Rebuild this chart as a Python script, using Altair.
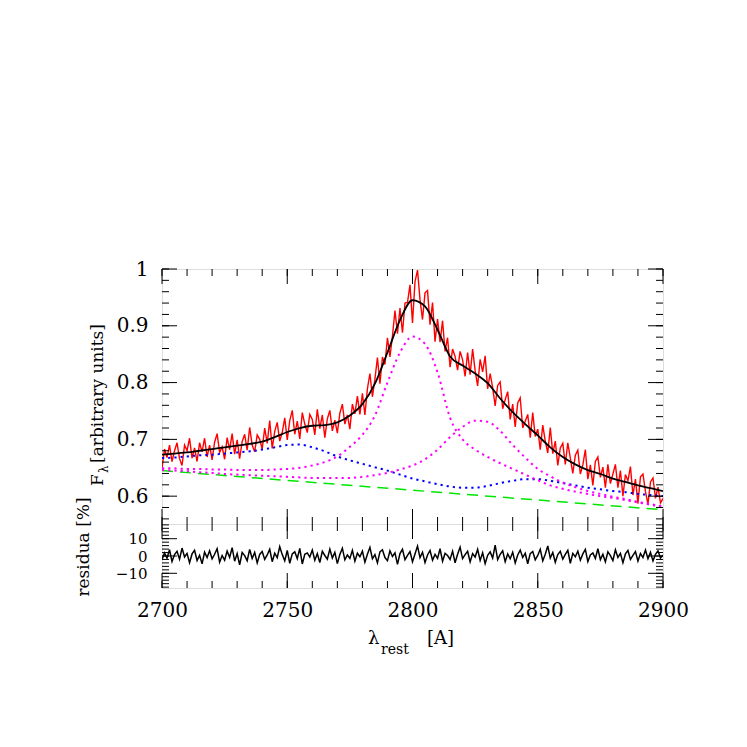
import altair as alt
import pandas as pd

# ---------------- data ----------------
WAVE_FINE = list(range(2700, 2901))          # 1 A sampling of the observed spectrum
FLUX = [
    .649, .683, .668, .690, .661, .680, .694, .666, .654, .690,
    .680, .702, .667, .685, .661, .694, .678, .702, .669, .690,
    .664, .695, .710, .677, .687, .665, .703, .682, .710, .674,
    .699, .666, .696, .709, .681, .721, .690, .678, .708, .700,
    .683, .720, .693, .733, .684, .714, .730, .697, .712, .738,
    .699, .733, .751, .709, .732, .701, .747, .727, .712, .744,
    .735, .708, .753, .719, .743, .703, .736, .751, .715, .734,
    .711, .746, .762, .727, .743, .718, .762, .745, .776, .744,
    .781, .743, .789, .816, .775, .806, .844, .798, .845, .832,
    .879, .845, .882, .927, .886, .931, .888, .940, .941, .972,
    .905, .978, .998, .946, .911, .958, .962, .902, .941, .872,
    .912, .871, .909, .855, .879, .827, .859, .846, .822, .855,
    .840, .811, .853, .814, .859, .821, .794, .841, .819, .847,
    .789, .816, .791, .759, .795, .801, .754, .770, .784, .735,
    .762, .722, .764, .773, .720, .732, .744, .703, .747, .705,
    .718, .682, .725, .697, .676, .721, .675, .697, .654, .685,
    .693, .656, .694, .667, .640, .672, .681, .639, .655, .682,
    .630, .655, .619, .661, .669, .633, .651, .615, .656, .622,
    .639, .656, .615, .645, .600, .638, .627, .652, .602, .630,
    .587, .634, .639, .608, .586, .625, .632, .596, .616, .588,
    .596,
]
RESID = [
    -2.2, 1.8, -1.2, 3.6, -3.2, 0.8, 2.7, -1.8, 4.6, -0.6, 1.5, -3.9, 1.2, 3.3, -2.6, 0.4, -4.5, 2.2, -0.9, 3.0,
    -1.6, 1.0, 4.2, -3.6, 0.3, -2.4, 2.8, -0.8, 4.8, -3.0, 1.4, -5.1, 2.0, 0.2, -2.7, 3.8, -1.4, 2.1, -4.0, 0.9,
    2.6, -2.0, 0.6, 3.9, -3.3, 1.6, -1.0, 5.4, 0.8, -2.8, 3.2, -4.2, 1.2, 2.4, -1.5, 4.4, -4.6, 1.0, 1.8, -0.6,
    3.4, -2.4, 1.4, -3.8, 2.7, 0.3, -1.8, 4.0, -1.2, 2.1, -4.4, 0.9, 4.5, -2.2, 0.6, -1.4, 3.3, -3.0, 1.6, -0.4,
    2.8, -3.6, 1.0, 5.0, -1.6, 0.8, -4.0, 2.4, 3.6, -0.9, -2.7, 3.0, -0.3, 1.8, -4.8, 1.4, 3.9, -2.1, 0.4, 2.6,
    -3.3, 1.2, 5.7, -1.0, 2.2, -3.8, 0.6, 3.2, -2.4, 0.9, -1.4, 4.2, -3.0, 1.5, 0.3, -2.0, 2.8, -3.9, 1.0, 5.1,
    -1.5, 0.8, 2.7, -3.4, 1.4, -0.6, 3.8, -2.6, 1.8, -4.4, 0.4, 2.4, -1.2, 6.3, -2.1, 0.9, 3.0, -3.3, 1.2, -1.6,
    2.2, -4.0, 0.6, 3.4, -0.9, 1.6, -4.5, 1.4, 2.6, -2.2, 0.3, 3.9, -2.8, 1.0, 5.8, -1.2, 2.0, -3.6, 0.8, 2.7,
    -1.8, 0.9, 3.3, -4.2, 1.5, -0.4, 2.8, -2.4, 1.2, 3.8, -3.2, 0.6, 1.8, -1.4, 4.2, -2.1, 1.0, -3.4, 2.4, 0.2,
    -2.6, 3.6, -0.8, 1.5, -3.9, 1.2, 3.2, -2.0, 0.4, 2.6, -3.0, 1.4, -0.9, 3.4, -1.6, 2.1, -2.8, 0.9, 3.0, -1.2,
    0.6,
]

WAVE_COARSE = list(range(2700, 2905, 5))     # 5 A sampling of the fit components
FIT = [.673, .675, .677, .680, .683, .686, .689, .692, .696, .704,
       .713, .720, .724, .725, .730, .742, .762, .798, .853, .910,
       .945, .934, .893, .846, .830, .816, .799, .772, .748, .727,
       .707, .686, .669, .656, .646, .639, .631, .625, .619, .614, .609]
BLUE = [.667, .668, .670, .672, .673, .675, .677, .679, .682, .686,
        .690, .691, .686, .679, .670, .663, .657, .651, .645, .638,
        .631, .626, .621, .617, .615, .615, .618, .623, .627, .630,
        .630, .627, .623, .619, .615, .612, .609, .607, .604, .602, .600]
MAG1 = [.649, .649, .648, .648, .647, .647, .646, .646, .646, .647,
        .648, .650, .654, .660, .670, .687, .708, .742, .800, .853,
        .881, .868, .818, .738, .700, .682, .669, .658, .648, .638,
        .628, .619, .613, .608, .604, .600, .597, .593, .589, .585, .581]
MAG2 = [.646, .645, .644, .642, .641, .639, .638, .637, .636, .635,
        .634, .633, .632, .632, .632, .632, .634, .637, .641, .647,
        .654, .665, .682, .704, .722, .733, .731, .715, .690, .668,
        .648, .635, .624, .616, .609, .604, .599, .595, .590, .586, .582]
CONT_X = [2700, 2900]
CONT_Y = [0.645, 0.576]

X_MAJOR = [2700, 2750, 2800, 2850, 2900]
X_MINOR = [2700, 2710, 2720, 2730, 2740, 2750, 2760, 2770, 2780, 2790, 2800,
           2810, 2820, 2830, 2840, 2850, 2860, 2870, 2880, 2890, 2900]
Y_MAJOR = [0.6, 0.7, 0.8, 0.9, 1.0]
Y_MINOR = [0.56, 0.58, 0.60, 0.62, 0.64, 0.66, 0.68, 0.70, 0.72, 0.74, 0.76, 0.78,
           0.80, 0.82, 0.84, 0.86, 0.88, 0.90, 0.92, 0.94, 0.96, 0.98, 1.00]
R_MAJOR = [-10, 0, 10]
R_MINOR = [-18, -16, -14, -12, -10, -8, -6, -4, -2, 0, 2, 4, 6, 8, 10, 12, 14, 16, 18]

Y_TITLE_F = "F"
Y_TITLE_SUB = "λ"
Y_TITLE_REST = "[arbitrary units]"
R_TITLE = "residua [%]"
X_TITLE_L = "λ"
X_TITLE_SUB = "rest"
X_TITLE_REST = "[A]"

# ---------------- layout ----------------
W = 501
H1 = 255
H2 = 64
FONT = "DejaVu Serif"
MAJ = 15
MIN = 7

spec_df = pd.DataFrame({"wave": WAVE_FINE, "flux": FLUX, "resid": RESID})
model_df = pd.DataFrame({"wave": WAVE_COARSE, "fit": FIT, "blue": BLUE,
                         "mag1": MAG1, "mag2": MAG2})
cont_df = pd.DataFrame({"wave": CONT_X, "cont": CONT_Y})

x_scale = alt.Scale(domain=[2700, 2900], nice=False, zero=False)
y_scale = alt.Scale(domain=[0.551, 1.0], nice=False, zero=False)
r_scale = alt.Scale(domain=[-18.5, 18.5], nice=False, zero=False)


def make_axis(values, fmt, size, pad):
    return alt.Axis(values=values, format=fmt, title=None, ticks=False, domain=False,
                    grid=False, labelFont=FONT, labelFontSize=size, labelPadding=pad,
                    labelColor="black", labelOverlap=False, labelFlush=False)


y_axis = make_axis(Y_MAJOR, ".1~f", 20, 14)
r_axis = make_axis(R_MAJOR, "d", 15, 15)
x_axis = make_axis(X_MAJOR, "d", 20, 12)


def tick_layers(scale, h, ymajor, yminor, xaxis, yaxis):
    layers = []
    for vals, ln in ((X_MINOR, MIN), (X_MAJOR, MAJ)):
        d = pd.DataFrame({"t": vals})
        layers.append(alt.Chart(d).mark_rule(color="black", strokeWidth=1).encode(
            x=alt.X("t:Q", scale=x_scale, axis=xaxis), y=alt.value(h), y2=alt.value(h - ln)))
        layers.append(alt.Chart(d).mark_rule(color="black", strokeWidth=1).encode(
            x=alt.X("t:Q", scale=x_scale, axis=xaxis), y=alt.value(0), y2=alt.value(ln)))
    for vals, ln in ((yminor, MIN), (ymajor, MAJ)):
        d = pd.DataFrame({"t": vals})
        layers.append(alt.Chart(d).mark_rule(color="black", strokeWidth=1).encode(
            y=alt.Y("t:Q", scale=scale, axis=yaxis), x=alt.value(0), x2=alt.value(ln)))
        layers.append(alt.Chart(d).mark_rule(color="black", strokeWidth=1).encode(
            y=alt.Y("t:Q", scale=scale, axis=yaxis), x=alt.value(W), x2=alt.value(W - ln)))
    return layers


def label(txt, x, y, size, angle=0, align="left", baseline="alphabetic"):
    kw = dict(font=FONT, fontSize=size, align=align, baseline=baseline, color="black")
    if angle:
        kw["angle"] = angle
    return alt.Chart(pd.DataFrame({"txt": [txt]})).mark_text(**kw).encode(
        x=alt.value(x), y=alt.value(y), text="txt:N")


# ---------------- top panel ----------------
def tx(field):
    return alt.X(f"{field}:Q", scale=x_scale, axis=None)


def ty(field):
    return alt.Y(f"{field}:Q", scale=y_scale, axis=y_axis)


red = alt.Chart(spec_df).mark_line(color="#ff0000", strokeWidth=1.4, clip=True).encode(
    x=tx("wave"), y=ty("flux"))
green = alt.Chart(cont_df).mark_line(color="#00e600", strokeWidth=1.5, strokeDash=[11, 7],
                                     clip=True).encode(x=tx("wave"), y=ty("cont"))
dotted = dict(strokeWidth=2, strokeDash=[2.2, 4], strokeCap="butt", interpolate="monotone", clip=True)
blue = alt.Chart(model_df).mark_line(color="#0000ff", **dotted).encode(x=tx("wave"), y=ty("blue"))
mag1 = alt.Chart(model_df).mark_line(color="#ff00ff", **dotted).encode(x=tx("wave"), y=ty("mag1"))
mag2 = alt.Chart(model_df).mark_line(color="#ff00ff", **dotted).encode(x=tx("wave"), y=ty("mag2"))
fit = alt.Chart(model_df).mark_line(color="black", strokeWidth=1.8, interpolate="monotone",
                                    clip=True).encode(x=tx("wave"), y=ty("fit"))

top = alt.layer(
    red, green, blue, mag1, mag2, fit,
    *tick_layers(y_scale, H1, Y_MAJOR, Y_MINOR, None, y_axis),
    label(Y_TITLE_F, -59, 217, 17, angle=270),
    label(Y_TITLE_SUB, -54, 204, 12, angle=270),
    label(Y_TITLE_REST, -59, 194, 17, angle=270),
).properties(width=W, height=H1)

# ---------------- residual panel ----------------
res = alt.Chart(spec_df).mark_line(color="black", strokeWidth=1.5, clip=True).encode(
    x=alt.X("wave:Q", scale=x_scale, axis=x_axis),
    y=alt.Y("resid:Q", scale=r_scale, axis=r_axis))

bottom = alt.layer(
    res,
    *tick_layers(r_scale, H2, R_MAJOR, R_MINOR, x_axis, r_axis),
    label(R_TITLE, -73, 23, 17, angle=270, align="center"),
    label(X_TITLE_L, 206, 120, 18),
    label(X_TITLE_SUB, 219, 130, 14),
    label(X_TITLE_REST, 265, 120, 18),
).properties(width=W, height=H2)

chart = alt.vconcat(top, bottom, spacing=0, bounds="flush").properties(
    padding={"left": 66, "top": 250, "right": 20, "bottom": 20}
).configure_view(stroke="black", strokeWidth=1).configure(background="white")

chart.save("out.html", embed_options={"renderer": "svg", "actions": False})
